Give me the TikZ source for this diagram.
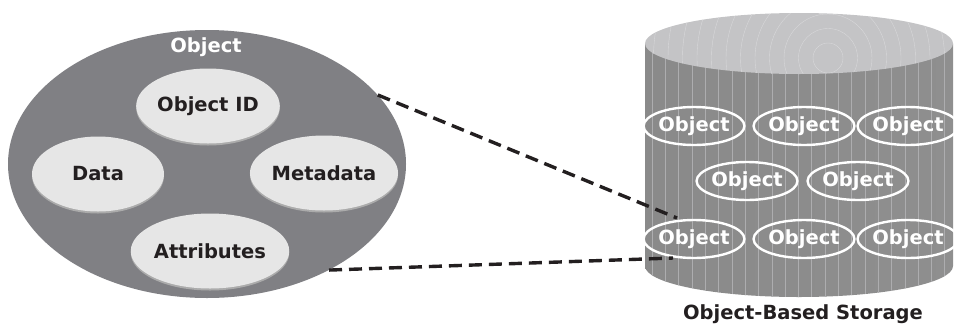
\documentclass[tikz,border=0pt]{standalone}
\usepackage{fontspec}
\setmainfont{DejaVu Sans}
\usetikzlibrary{shapes.geometric,shadows}
\definecolor{objgray}{HTML}{808084}
\definecolor{partfill}{HTML}{E6E6E6}
\definecolor{partshadow}{HTML}{ABABAB}
\definecolor{inkblack}{HTML}{231F20}
\definecolor{topgray}{HTML}{C4C4C6}
\definecolor{ringgray}{HTML}{D8D8DA}
\definecolor{stripegray}{HTML}{ADADAF}

\begin{document}
\begin{tikzpicture}[x=1pt, y=-1pt, font=\fontsize{19.5}{22}\selectfont\bfseries,
  part/.style={ellipse, fill=partfill, inner sep=0pt, minimum width=132pt,
    minimum height=75pt, text=inkblack,
    drop shadow={opacity=1, fill=partshadow, shadow xshift=0pt, shadow yshift=-2pt}},
  stored/.style={ellipse, draw=white, line width=2.4pt, inner sep=0pt,
    minimum width=84pt, minimum height=38pt, text=white},
  link/.style={inkblack, line width=3.4pt, dash pattern=on 13pt off 7pt}]
  \useasboundingbox (0,0) rectangle (955,327);

  % the object
  \node[ellipse, fill=objgray, inner sep=0pt, minimum width=398pt,
    minimum height=268pt] (obj) at (207,164) {};
  \node[text=white] (objlabel) at (206,47) {Object};
  \node[part] (oid)  at (208,106) {Object ID};
  \node[part] (data) at (98,174)  {Data};
  \node[part] (meta) at (324,173) {Metadata};
  \node[part] (attr) at (210,251) {Attributes};

  % storage body
  \begin{scope}
    \clip (645,43.5) -- (645,266) arc[start angle=180, end angle=0,
      x radius=154, y radius=31] -- (953,43.5) -- cycle;
    \shade[left color=black!46, middle color=black!33, right color=black!44]
      (645,10) rectangle (953,300);
    \foreach \x in {652,665.3,...,950}
      \draw[stripegray, line width=0.4pt] (\x,40) -- (\x,300);
  \end{scope}
  % storage top
  \fill[topgray] (799,43.5) ellipse[x radius=154, y radius=30.5];
  \begin{scope}
    \clip (799,43.5) ellipse[x radius=154, y radius=30.5];
    \foreach \r in {15,29.5,...,200}
      \draw[ringgray, line width=0.4pt] (828,58) circle[radius=\r];
  \end{scope}

  % stored objects
  \node[stored] (s1) at (694,126) {Object};
  \node[stored] (s2) at (804,126) {Object};
  \node[stored] (s3) at (908,126) {Object};
  \node[stored] (s4) at (747,181) {Object};
  \node[stored] (s5) at (858,181) {Object};
  \node[stored] (s6) at (694,239) {Object};
  \node[stored] (s7) at (804,239) {Object};
  \node[stored] (s8) at (908,239) {Object};
  \node[text=inkblack] (storelabel) at (803,314) {Object-Based Storage};

  % links
  \coordinate (near) at (677,218);
  \coordinate (far) at (673,258);
  \draw[link] (obj.22) -- (near);
  \draw[link] (obj.-41) -- (far);
\end{tikzpicture}
\end{document}
